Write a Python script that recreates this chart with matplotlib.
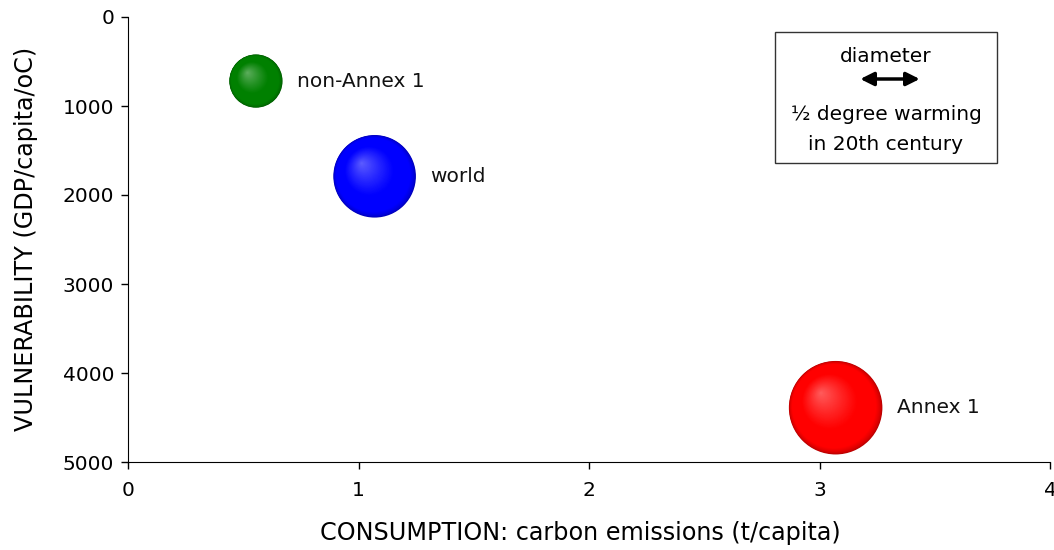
import numpy as np
import matplotlib
matplotlib.use("Agg")
import matplotlib.pyplot as plt
from matplotlib.colors import to_rgb
from matplotlib.patches import FancyArrowPatch, Rectangle

# Data
regions = ["non-Annex 1", "world", "Annex 1"]
consumption = [0.555, 1.07, 3.07]        # carbon emissions t/capita
vulnerability = [720, 1790, 4390]        # GDP/capita/oC
warming = [0.43, 0.67, 0.76]             # degree warming in 20th century (diameter)
colors = ["#008000", "#0000ff", "#ff0000"]
x_ticks = [0, 1, 2, 3, 4]
y_ticks = [0, 1000, 2000, 3000, 4000, 5000]

DPI = 100
W, H = 1054, 550
plt.rcParams['font.family'] = ['DejaVu Sans']
FS = 14.5
FS_LAB = 17.2
fig = plt.figure(figsize=(W / DPI, H / DPI), dpi=DPI)
ax = fig.add_axes([128 / W, (550 - 462) / H, (1050 - 128) / W, (462 - 17) / H])

ax.set_xlim(0, 4)
ax.set_ylim(5000, 0)

arrow_px = 61.0      # pixel length representing 0.5 degree
px_per_deg = arrow_px / 0.5
pt_per_px = 72.0 / DPI


def blend(c1, c2, t):
    return tuple(a * (1 - t) + b * t for a, b in zip(c1, c2))


inv = ax.transData.inverted()
for xv, yv, w, c, name in zip(consumption, vulnerability, warming, colors, regions):
    d_px = w * px_per_deg
    base = np.array(to_rgb(c))
    dark = base * 0.72
    light = blend(base, (1, 1, 1), 0.36)
    cx, cy = ax.transData.transform((xv, yv))
    hx, hy = cx - 0.32 * d_px / 2, cy + 0.32 * d_px / 2  # highlight up-left
    n = 80
    for i in range(n):
        t = i / (n - 1)
        dd = d_px * (1 - t) + 0.8
        px = cx * (1 - t) + hx * t
        py = cy * (1 - t) + hy * t
        dx, dy = inv.transform((px, py))
        if t < 0.1:
            col = blend(dark, base, (t / 0.1) ** 0.6)
        elif t < 0.4:
            col = tuple(base)
        else:
            col = blend(base, light, ((t - 0.4) / 0.6) ** 1.1)
        ax.scatter([dx], [dy], s=(dd * pt_per_px) ** 2, color=col,
                   edgecolors='none', zorder=3 + i * 0.001)
    ax.annotate(name, (xv, yv), xytext=((d_px / 2 + 15) * pt_per_px, 0),
                textcoords='offset points', ha='left', va='center',
                fontsize=FS, color='#111111')

ax.set_xticks(x_ticks)
ax.set_yticks(y_ticks)
ax.set_xticklabels([str(v) for v in x_ticks])
ax.set_yticklabels([str(v) for v in y_ticks])
ax.tick_params(axis='both', direction='out', length=5, width=1, labelsize=FS,
               colors='black', pad=5)
ax.tick_params(axis='x', pad=9)
ax.spines['top'].set_visible(False)
ax.spines['right'].set_visible(False)
ax.set_xlabel("CONSUMPTION: carbon emissions (t/capita)", fontsize=FS_LAB)
ax.set_ylabel("VULNERABILITY (GDP/capita/oC)", fontsize=FS_LAB)
ax.xaxis.set_label_coords((580 - 128) / 922, -(533 - 462) / 445)
ax.yaxis.set_label_coords(-(128 - 26) / 922, (462 - 239) / 445)
ax.xaxis.label.set_va('center')
ax.yaxis.label.set_va('center')

# Legend box (figure pixel coords)
lx0, ly0, lx1, ly1 = 775, 32, 997, 163
fig.patches.append(Rectangle((lx0 / W, 1 - ly1 / H), (lx1 - lx0) / W, (ly1 - ly0) / H,
                             transform=fig.transFigure, fill=False,
                             edgecolor='#333333', linewidth=1.0))
cxl = (lx0 + lx1) / 2 / W
fig.text(cxl, 1 - 57 / H, "diameter", ha='center', va='center', fontsize=FS)
fig.text(cxl, 1 - 114 / H, "½ degree warming", ha='center', va='center', fontsize=FS)
fig.text(cxl, 1 - 145 / H, "in 20th century", ha='center', va='center', fontsize=FS)
acx = 890
fig.patches.append(FancyArrowPatch(
    ((acx - arrow_px / 2 - 2) / W, 1 - 79 / H), ((acx + arrow_px / 2 + 2) / W, 1 - 79 / H),
    transform=fig.transFigure, arrowstyle='<|-|>', mutation_scale=20,
    color='black', linewidth=2.5))

fig.savefig("out.png", dpi=DPI)
